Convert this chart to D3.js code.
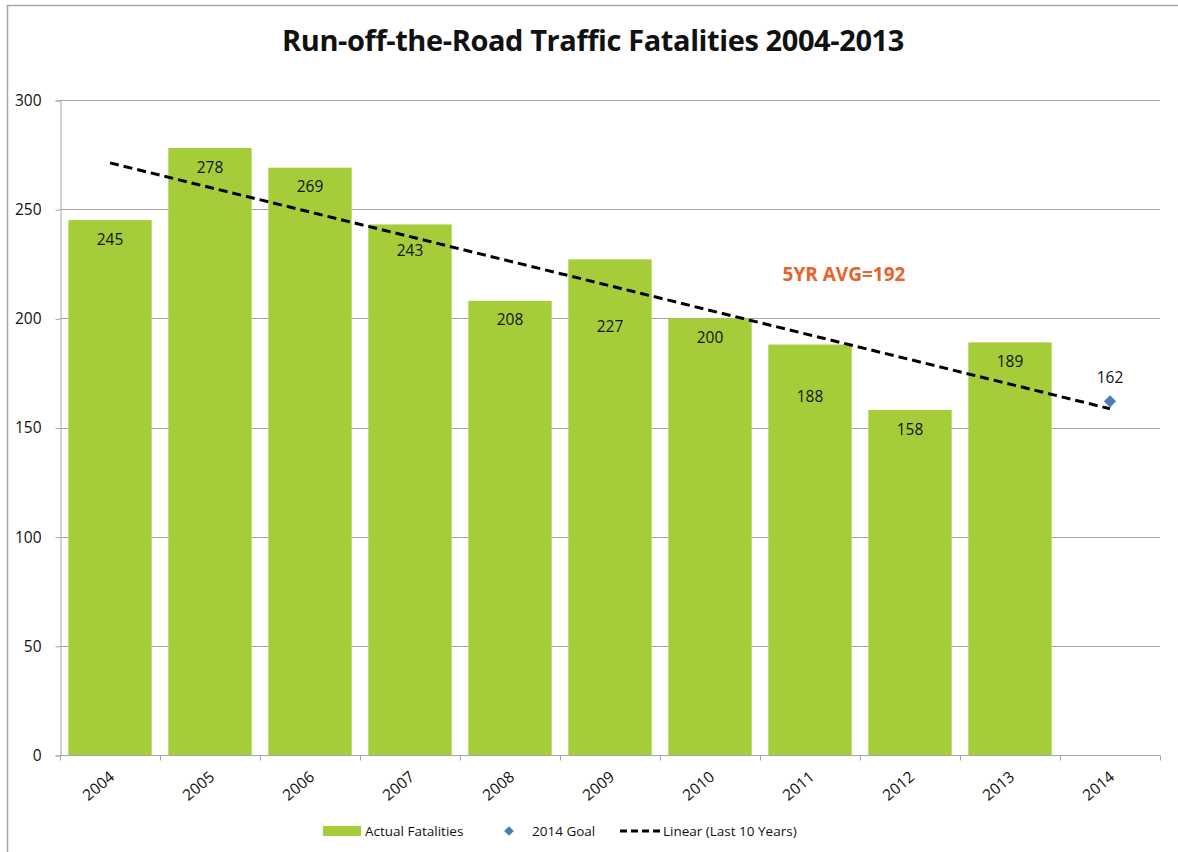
<!DOCTYPE html>
<html>
<head>
<meta charset="utf-8">
<script src="https://cdn.jsdelivr.net/npm/d3@7"></script>
<style>
  body { margin: 0; background: #fff; }
  text { font-family: "Open Sans", "DejaVu Sans", sans-serif; fill: #111; }
</style>
</head>
<body>
<svg id="chart" width="1178" height="852"></svg>
<script>
// data
var years = ["2004", "2005", "2006", "2007", "2008", "2009", "2010", "2011", "2012", "2013", "2014"];
var barYears = ["2004", "2005", "2006", "2007", "2008", "2009", "2010", "2011", "2012", "2013"];
var fatalities = [245, 278, 269, 243, 208, 227, 200, 188, 158, 189];
var goalYear = "2014";
var goalValue = 162;
var trendYears = ["2004", "2014"];
var trendValues = [271.2, 158.6];
var yTicks = [0, 50, 100, 150, 200, 250, 300];
var avgLabel = "5YR AVG=192";

// labels that were pushed down out of the trend line's way (px)
var labelNudge = { "2007": 7, "2009": 48, "2011": 33 };

var svg = d3.select("#chart");
var plotLeft = 60, plotRight = 1160, plotTop = 100, plotBottom = 755;

var barColor = "#a5cd39";
var goalColor = "#4a7ebb";
var gridColor = "#a6a6a6";

// chart border (only top and left visible)
svg.append("rect")
  .attr("x", 7.5).attr("y", 5.5)
  .attr("width", 1200).attr("height", 900)
  .attr("fill", "none")
  .attr("stroke", "#a6a6a6")
  .attr("stroke-width", 1.5);

var x = d3.scaleBand()
  .domain(years)
  .range([plotLeft, plotRight])
  .paddingInner(1 / 6)
  .paddingOuter(1 / 12);

var y = d3.scaleLinear()
  .domain([0, 300])
  .range([plotBottom, plotTop]);

// title
svg.append("text")
  .attr("x", 593).attr("y", 51)
  .attr("text-anchor", "middle")
  .style("font-size", "29px")
  .style("font-weight", "bold")
  .style("letter-spacing", "-0.4px")
  .text("Run-off-the-Road Traffic Fatalities 2004-2013");

// gridlines
svg.append("g")
  .selectAll("line")
  .data(yTicks.filter(function (d) { return d > 0; }))
  .enter()
  .append("line")
  .attr("x1", plotLeft).attr("x2", plotRight)
  .attr("y1", function (d) { return Math.round(y(d)) + 0.5; })
  .attr("y2", function (d) { return Math.round(y(d)) + 0.5; })
  .attr("stroke", gridColor)
  .attr("stroke-width", 1);

// y axis
var yAxis = svg.append("g")
  .attr("transform", "translate(" + (plotLeft + 0.5) + ",0.5)")
  .call(d3.axisLeft(y).tickValues(yTicks).tickSize(5).tickPadding(14));
yAxis.select(".domain").attr("stroke", gridColor);
yAxis.selectAll(".tick line").attr("stroke", gridColor);
yAxis.selectAll(".tick text")
  .style("font-size", "15.5px")
  .style("font-family", "Open Sans, sans-serif")
  .attr("fill", "#111");

// bars
svg.append("g")
  .selectAll("rect")
  .data(barYears)
  .enter()
  .append("rect")
  .attr("x", function (d) { return x(d); })
  .attr("y", function (d, i) { return y(fatalities[i]); })
  .attr("width", x.bandwidth())
  .attr("height", function (d, i) { return plotBottom - y(fatalities[i]); })
  .attr("fill", barColor);

// x axis with tick marks between categories
var step = x.step();
var xAxisG = svg.append("g").attr("transform", "translate(0," + (plotBottom + 0.5) + ")");
xAxisG.append("line")
  .attr("x1", plotLeft).attr("x2", plotRight)
  .attr("stroke", gridColor);
xAxisG.selectAll("line.tk")
  .data(years.concat(["end"]))
  .enter()
  .append("line")
  .attr("class", "tk")
  .attr("x1", function (d, i) { return Math.round(plotLeft + i * step) + 0.5; })
  .attr("x2", function (d, i) { return Math.round(plotLeft + i * step) + 0.5; })
  .attr("y1", 0).attr("y2", 5)
  .attr("stroke", gridColor);
xAxisG.selectAll("text")
  .data(years)
  .enter()
  .append("text")
  .attr("transform", function (d) {
    return "translate(" + (x(d) + x.bandwidth() / 2 + 2) + ",19) rotate(-40)";
  })
  .attr("text-anchor", "end")
  .attr("dy", "0.35em")
  .style("font-size", "15.5px")
  .text(function (d) { return d; });

// bar value labels
svg.append("g")
  .selectAll("text")
  .data(barYears)
  .enter()
  .append("text")
  .attr("x", function (d) { return x(d) + x.bandwidth() / 2; })
  .attr("y", function (d, i) { return y(fatalities[i]) + 24.5 + (labelNudge[d] || 0); })
  .attr("text-anchor", "middle")
  .style("font-size", "15.5px")
  .text(function (d, i) { return fatalities[i]; });

// trend line
var line = d3.line()
  .x(function (d) { return x(d) + x.bandwidth() / 2; })
  .y(function (d, i) { return y(trendValues[i]); });
svg.append("path")
  .datum(trendYears)
  .attr("d", line)
  .attr("fill", "none")
  .attr("stroke", "#000")
  .attr("stroke-width", 3)
  .attr("stroke-dasharray", "9,5");

// goal marker
var diamond = d3.symbol().type(d3.symbolDiamond2).size(95);
svg.append("path")
  .attr("d", diamond)
  .attr("transform", "translate(" + (x(goalYear) + x.bandwidth() / 2) + "," + y(goalValue) + ")")
  .attr("fill", goalColor);
svg.append("text")
  .attr("x", x(goalYear) + x.bandwidth() / 2)
  .attr("y", y(goalValue) - 18)
  .attr("text-anchor", "middle")
  .style("font-size", "15.5px")
  .text(goalValue);

// 5 year average note
svg.append("text")
  .attr("x", 844).attr("y", 281)
  .attr("text-anchor", "middle")
  .style("font-size", "19px")
  .style("font-weight", "bold")
  .style("fill", "#e8622c")
  .text(avgLabel);

// legend
var lg = svg.append("g").attr("transform", "translate(0,831)");
lg.append("rect")
  .attr("x", 323).attr("y", -5)
  .attr("width", 38).attr("height", 10)
  .attr("fill", barColor);
lg.append("text")
  .attr("x", 365).attr("dy", "0.35em")
  .style("font-size", "13.5px")
  .text("Actual Fatalities");
lg.append("path")
  .attr("d", d3.symbol().type(d3.symbolDiamond2).size(60))
  .attr("transform", "translate(509,0)")
  .attr("fill", goalColor);
lg.append("text")
  .attr("x", 532).attr("dy", "0.35em")
  .style("font-size", "13.5px")
  .text("2014 Goal");
lg.append("line")
  .attr("x1", 620).attr("x2", 661)
  .attr("stroke", "#000")
  .attr("stroke-width", 3)
  .attr("stroke-dasharray", "7,4");
lg.append("text")
  .attr("x", 663).attr("dy", "0.35em")
  .style("font-size", "13.5px")
  .text("Linear (Last 10 Years)");
</script>
</body>
</html>
